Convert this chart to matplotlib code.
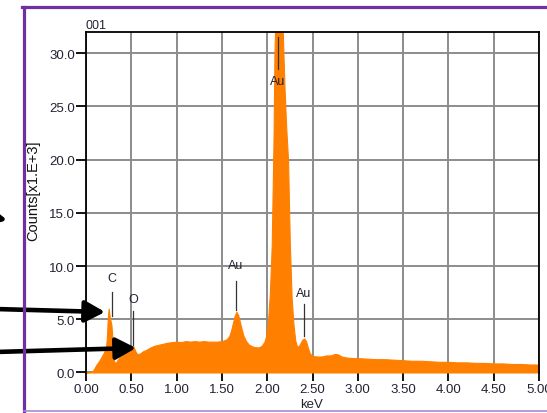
import numpy as np
import matplotlib
matplotlib.use('Agg')
from matplotlib import pyplot as plt
from matplotlib.lines import Line2D

plt.rcParams['font.family'] = ['Liberation Sans', 'DejaVu Sans']

# spectrum (keV, counts x1000)
energy = [0.00, 0.05, 0.08, 0.10, 0.12, 0.14, 0.16, 0.18, 0.20, 0.22, 0.23, 0.24, 0.25, 0.26,
          0.28, 0.29, 0.30, 0.31, 0.33, 0.35, 0.37, 0.39, 0.41, 0.43, 0.45, 0.47, 0.49, 0.51,
          0.52, 0.53, 0.55, 0.57, 0.60, 0.63, 0.66, 0.70, 0.75, 0.80, 0.85, 0.90, 0.95, 1.00,
          1.05, 1.10, 1.15, 1.20, 1.25, 1.30, 1.35, 1.40, 1.45, 1.50, 1.55, 1.58, 1.60, 1.62,
          1.64, 1.66, 1.68, 1.70, 1.72, 1.74, 1.77, 1.80, 1.85, 1.90, 1.94, 1.97, 1.99, 2.01,
          2.03, 2.05, 2.07, 2.08, 2.09, 2.11, 2.13, 2.15, 2.17, 2.19, 2.21, 2.23, 2.25, 2.27,
          2.29, 2.31, 2.33, 2.35, 2.37, 2.39, 2.41, 2.43, 2.45, 2.47, 2.50, 2.55, 2.60, 2.65,
          2.70, 2.75, 2.78, 2.82, 2.88, 2.95, 3.00, 3.10, 3.20, 3.30, 3.40, 3.50, 3.60, 3.70,
          3.80, 3.90, 4.00, 4.10, 4.20, 4.30, 4.40, 4.50, 4.60, 4.70, 4.80, 4.90, 5.00]
counts = [0.0, 0.05, 0.2, 0.5, 0.8, 1.0, 1.3, 1.6, 1.9, 2.3, 3.2, 5.0, 6.0, 5.3,
          4.5, 3.5, 2.0, 1.0, 0.9, 1.2, 1.4, 1.5, 1.7, 1.8, 1.9, 2.0, 2.1, 2.3,
          2.5, 2.3, 1.9, 1.7, 1.8, 2.0, 2.1, 2.3, 2.5, 2.6, 2.7, 2.8, 2.85, 2.9,
          2.85, 2.95, 2.9, 2.95, 2.9, 2.95, 2.9, 2.9, 2.9, 2.95, 3.1, 3.4, 3.9, 4.6,
          5.3, 5.7, 5.4, 4.7, 4.0, 3.4, 2.9, 2.6, 2.4, 2.35, 2.5, 2.9, 3.5, 5.0,
          7.5, 12.0, 22.0, 30.0, 33.0, 36.0, 37.0, 35.0, 32.5, 27.0, 23.0, 20.0, 12.0, 7.0,
          4.5, 3.0, 2.4, 2.5, 2.8, 3.1, 3.2, 2.9, 2.3, 1.8, 1.55, 1.5, 1.5, 1.6,
          1.6, 1.75, 1.7, 1.5, 1.4, 1.35, 1.35, 1.3, 1.25, 1.25, 1.2, 1.15, 1.1, 1.1,
          1.05, 1.0, 1.0, 0.95, 0.95, 0.9, 0.9, 0.85, 0.85, 0.8, 0.8, 0.75, 0.75]

# peak labels: (text, keV, text height, line top, line bottom)
peaks = [('C', 0.283, 8.9, 7.6, 5.3),
         ('O', 0.519, 6.9, 5.8, 2.6),
         ('Au', 1.656, 10.1, 8.6, 5.9),
         ('Au', 2.406, 7.5, 6.4, 3.4),
         ('Au', 2.12, 27.4, 31.5, 28.5)]

xticks = [0.0, 0.5, 1.0, 1.5, 2.0, 2.5, 3.0, 3.5, 4.0, 4.5, 5.0]
yticks = [0.0, 5.0, 10.0, 15.0, 20.0, 25.0, 30.0]

W, H = 547, 414
fig = plt.figure(figsize=[5.47, 4.14], dpi=100)
ax = fig.add_axes([86/W, 1-374/H, 453/W, 341/H])

ax.fill_between(energy, 0, counts, color='#ff8000', lw=0.8, edgecolor='#ff8000', zorder=2)
ax.set_xlim(0, 5)
ax.set_ylim(-0.05, 32.0)
ax.set_xticks(xticks)
ax.set_yticks(yticks)
ax.set_xticklabels(['%.2f' % v for v in xticks])
ax.set_yticklabels(['%.1f' % v for v in yticks])
ax.grid(True, color='#8c8c8c', lw=1.4, zorder=0)
ax.set_axisbelow(True)
ax.tick_params(axis='y', length=7, width=1.3, labelsize=9.5, labelcolor='#222233', pad=1)
ax.tick_params(axis='x', length=5.5, width=1.3, labelsize=9.5, labelcolor='#222233', pad=2)
ax.spines['bottom'].set_visible(False)
for s in ['left', 'top', 'right']:
    ax.spines[s].set_linewidth(1.3)

fig.text(33/W, 1-191/H, 'Counts[x1.E+3]', rotation=90, ha='center', va='center',
         fontsize=10.5, color='#111111')
fig.text(312/W, 1-405/H, 'keV', ha='center', va='center', fontsize=9.5, color='#222233')
ax.text(0.0, 1.004, '001', transform=ax.transAxes, fontsize=9, color='#222233', va='bottom')

for name, e, ty, l1, l2 in peaks:
    ax.text(e, ty, name, ha='center', va='center', fontsize=9, color='#222233', zorder=4)
    ax.plot([e, e], [l2, l1], color='#333333', lw=0.9, zorder=4)

# purple frame (runs off the right and bottom of the picture)
fig.add_artist(Line2D([23.5/W, 23.5/W], [0, 1-7.5/H], color='#7030a0', lw=2.3))
fig.add_artist(Line2D([22.4/W, 1.0], [1-7.5/H, 1-7.5/H], color='#7030a0', lw=2.3))
fig.add_artist(Line2D([23.5/W, 1.0], [1-411.5/H, 1-411.5/H], color='#a88ad0', lw=1.2))

# black arrows
arrow_kw = dict(arrowstyle='-|>,head_length=1.2,head_width=0.65', color='black', lw=3.3,
                shrinkA=0, shrinkB=0, mutation_scale=10)
ax.annotate('', xy=(105, 101), xycoords='figure pixels', xytext=(-5, 104),
            textcoords='figure pixels', arrowprops=arrow_kw, annotation_clip=False)
ax.annotate('', xy=(136, 65), xycoords='figure pixels', xytext=(-5, 61),
            textcoords='figure pixels', arrowprops=arrow_kw, annotation_clip=False)
ax.annotate('', xy=(7, 193), xycoords='figure pixels', xytext=(-30, 200),
            textcoords='figure pixels', arrowprops=arrow_kw, annotation_clip=False)

plt.savefig('out.png', dpi=100)
